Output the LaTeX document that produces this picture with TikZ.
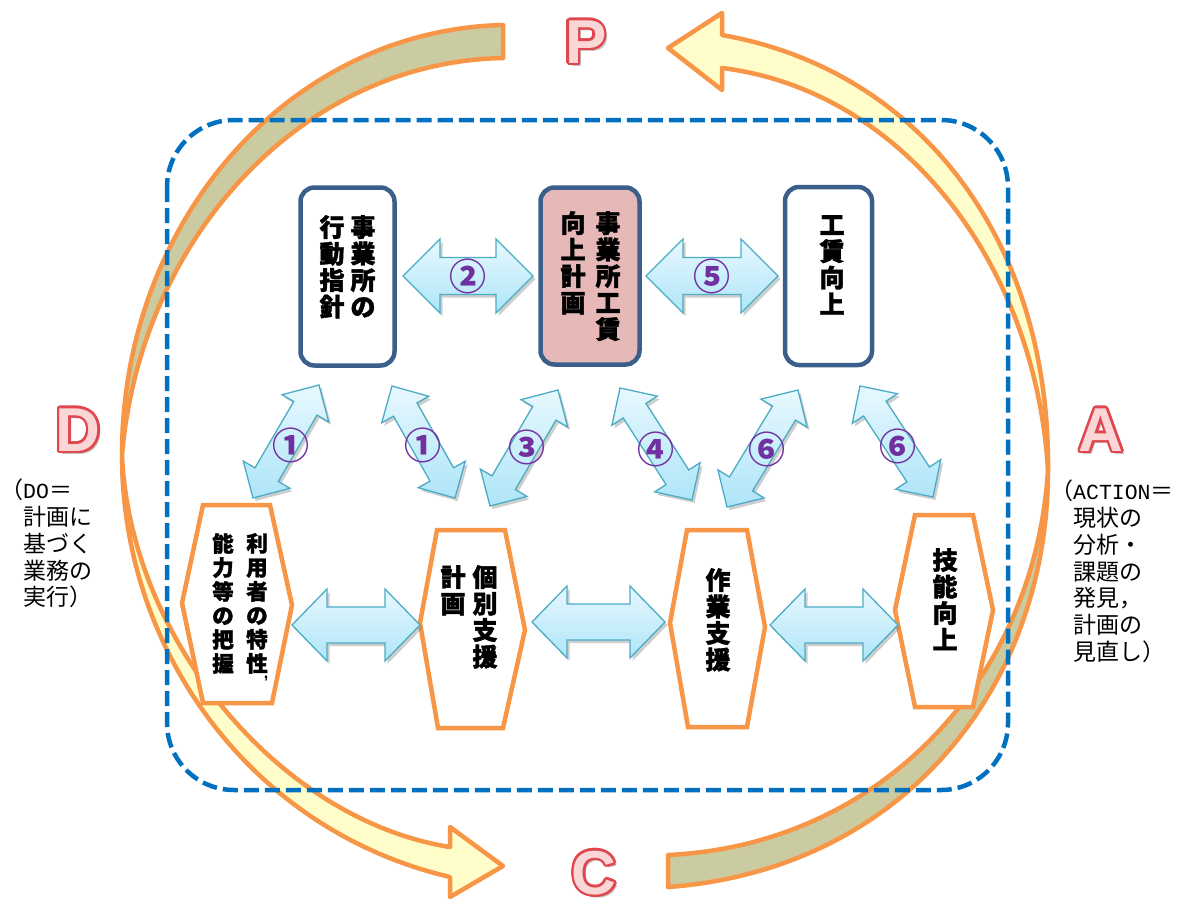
\documentclass[tikz,border=0pt]{standalone}
\usepackage{fontspec}
\newfontfamily\jp{Noto Sans CJK JP}
\newfontfamily\jpheavy{Noto Sans CJK JP}[BoldFeatures={FakeBold=1.6}]
\newfontfamily\lat{Liberation Sans}
\newfontfamily\mono{Liberation Mono}
\newcommand\halfw[1]{{\mono\fontsize{21.5}{26.7}\selectfont #1}}
\usetikzlibrary{calc,shadows}

\definecolor{ribbonedge}{HTML}{F79646}
\definecolor{ribbonback}{HTML}{CBCBA2}
\definecolor{ribbonfront}{HTML}{FFFDCA}
\definecolor{framenavy}{HTML}{3A5F8B}
\definecolor{planpink}{HTML}{E6B9B8}
\definecolor{dashblue}{HTML}{0070C0}
\definecolor{numpurple}{HTML}{7030A0}
\definecolor{arrowedge}{HTML}{4BACC6}
\definecolor{arrowtop}{HTML}{E8F8FE}
\definecolor{arrowbot}{HTML}{AEE5F8}
\definecolor{letterrim}{HTML}{E0464E}
\definecolor{letterface}{HTML}{FAD6D6}

\tikzset{
  ribbon/.style={draw=ribbonedge, line width=4.5pt, line join=round},
  dashframe/.style={draw=dashblue, line width=4.5pt, dash pattern=on 15pt off 6pt, rounded corners=67pt},
  topbox/.style={draw=framenavy, line width=4.5pt, rounded corners=14pt, fill=white},
  hexbox/.style={draw=ribbonedge, line width=4.5pt, fill=white, line join=miter},
  blockarr/.style={draw=arrowedge, line width=1.3pt, line join=miter,
    top color=arrowtop, bottom color=arrowbot,
    drop shadow={shadow xshift=2.5pt, shadow yshift=-3pt, opacity=0.35, fill=black!55}},
  num/.style={text=numpurple, font=\jp\bfseries\fontsize{37}{37}\selectfont, inner sep=0pt},
  vcol/.style={align=center, inner sep=0pt, anchor=north, font=\jpheavy\bfseries\fontsize{25}{26.5}\selectfont},
  vcolsmall/.style={align=center, inner sep=0pt, anchor=north, font=\jpheavy\bfseries\fontsize{21.5}{24}\selectfont},
  note/.style={align=left, inner sep=0pt, anchor=north west, font=\jp\fontsize{23}{26.7}\selectfont},
  letter face/.style={text=letterface, font=\lat\bfseries\fontsize{62}{62}\selectfont, inner sep=0pt},
  letter rim/.style={text=letterrim, font=\lat\bfseries\fontsize{62}{62}\selectfont, inner sep=0pt},
  letter shadow/.style={text=black!45, opacity=0.5, font=\lat\bfseries\fontsize{62}{62}\selectfont, inner sep=0pt},
}

% block double arrow between two tip coordinates:
% [extra style]{tip A}{tip B}{head length}{head half width}{shaft half width}
\newcommand\blockarrow[6][]{%
  \coordinate (#2-#3-a) at ($(#2)!#4!(#3)$);
  \coordinate (#2-#3-b) at ($(#3)!#4!(#2)$);
  \path[blockarr,#1] (#2)
    -- ($(#2-#3-a)!#5!90:(#3)$) -- ($(#2-#3-a)!#6!90:(#3)$)
    -- ($(#2-#3-b)!#6!-90:(#2)$) -- ($(#2-#3-b)!#5!-90:(#2)$)
    -- (#3)
    -- ($(#2-#3-b)!#5!90:(#2)$) -- ($(#2-#3-b)!#6!90:(#2)$)
    -- ($(#2-#3-a)!#6!-90:(#3)$) -- ($(#2-#3-a)!#5!-90:(#3)$)
    -- cycle;
}

% outlined cycle letter: name, position, letter
\newcommand\cycleletter[3]{%
  \node[letter shadow] (#1-shadow) at ($(#2)+(3,3)$) {#3};
  \foreach \a [count=\i] in {0,24,...,336}
    \node[letter rim] (#1-rim\i) at ($(#2)+(\a:2.4)$) {#3};
  \node[letter face] (#1) at (#2) {#3};
}

\begin{document}
\begin{tikzpicture}[x=1pt,y=-1pt]
\useasboundingbox[fill=white] (0,0) rectangle (1180,903);

% ---- the cycle ribbons ----
% left ribbon, back face (from the tail down to the twist)
\path[ribbon, fill=ribbonback]
  (503,25) .. controls (290,30) and (122,220) .. (122,455)
  .. controls (140,240) and (300,62) .. (503,58) -- cycle;
% left ribbon, front face with the head pointing to C
\path[ribbon, fill=ribbonfront]
  (122,455) .. controls (130,640) and (280,820) .. (450,847)
  -- (450,827) -- (503,866) -- (450,897) -- (450,877)
  .. controls (250,830) and (122,650) .. (122,455) -- cycle;
% right ribbon, back face (from the tail up to the twist)
\path[ribbon, fill=ribbonback]
  (1048,470) .. controls (1048,690) and (900,870) .. (668,887)
  -- (668,855) .. controls (880,845) and (1035,680) .. (1048,470) -- cycle;
% right ribbon, front face with the head pointing to P
\path[ribbon, fill=ribbonfront]
  (1048,470) .. controls (1050,240) and (920,70) .. (722,35)
  -- (722,13) -- (668,48) -- (722,90) -- (722,68)
  .. controls (900,90) and (1035,260) .. (1048,470) -- cycle;

% ---- dashed frame ----
\path[dashframe] (167,120) rectangle (1008,790);

% ---- upper row ----
\node[topbox, minimum width=94pt, minimum height=178pt] (box1) at (347.5,276.5) {};
\node[topbox, fill=planpink, minimum width=99pt, minimum height=177pt] (box2) at (590,276) {};
\node[topbox, minimum width=87pt, minimum height=178pt] (box3) at (828.5,276) {};

\node[vcol] (box1-r) at (363,215) {事\\業\\所\\の};
\node[vcol] (box1-l) at (332,215) {行\\動\\指\\針};
\node[vcol] (box2-r) at (608,211) {事\\業\\所\\工\\賃};
\node[vcol] (box2-l) at (573,211) {向\\上\\計\\画};
\node[vcol] (box3-c) at (832,215) {工\\賃\\向\\上};

% ---- lower row ----
\path[hexbox] (182,603) -- (203,505) -- (270,505) -- (292,605) -- (272,703) -- (203,703) -- cycle;
\path[hexbox] (420,623) -- (437,530) -- (505,530) -- (525,630) -- (503,728) -- (438,728) -- cycle;
\path[hexbox] (670,623) -- (687,530) -- (747,530) -- (765,627) -- (747,727) -- (688,727) -- cycle;
\path[hexbox] (895,610) -- (915,515) -- (973,515) -- (993,610) -- (973,707) -- (915,707) -- cycle;

\node[vcolsmall] (hex1-r) at (257,533) {利\\用\\者\\の\\特\\性};
\node[text=black, font=\lat\bfseries\fontsize{16}{16}\selectfont, inner sep=0pt] (hex1-comma) at (266,679) {,};
\node[vcolsmall] (hex1-l) at (223,533) {能\\力\\等\\の\\把\\握};
\node[vcol] (hex2-r) at (485,565) {個\\別\\支\\援};
\node[vcol] (hex2-l) at (453,565) {計\\画};
\node[vcol] (hex3-c) at (718,568) {作\\業\\支\\援};
\node[vcol] (hex4-c) at (945,548) {技\\能\\向\\上};

% ---- arrow tips ----
\coordinate (t2a) at (403,276);  \coordinate (t2b) at (533,276);
\coordinate (t5a) at (646,276);  \coordinate (t5b) at (778,276);
\coordinate (u1a) at (292,625);  \coordinate (u1b) at (420,625);
\coordinate (u2a) at (532,622);  \coordinate (u2b) at (665,622);
\coordinate (u3a) at (770,625);  \coordinate (u3b) at (898,625);
\coordinate (d1a) at (253,498);  \coordinate (d1b) at (319,385);
\coordinate (d2a) at (392,386);  \coordinate (d2b) at (455,498);
\coordinate (d3a) at (490,506);  \coordinate (d3b) at (558,390);
\coordinate (d4a) at (620,388);  \coordinate (d4b) at (692,500);
\coordinate (d5a) at (727,507);  \coordinate (d5b) at (798,390);
\coordinate (d6a) at (860,386);  \coordinate (d6b) at (933,497);

\blockarrow{t2a}{t2b}{37pt}{37pt}{18.5pt}
\blockarrow{t5a}{t5b}{37pt}{37pt}{18.5pt}
\blockarrow{u1a}{u1b}{35pt}{36pt}{18pt}
\blockarrow{u2a}{u2b}{35pt}{36pt}{18pt}
\blockarrow{u3a}{u3b}{35pt}{36pt}{18pt}
\blockarrow{d1a}{d1b}{27pt}{27pt}{13.5pt}
\blockarrow{d2a}{d2b}{27pt}{27pt}{13.5pt}
\blockarrow{d3a}{d3b}{27pt}{27pt}{13.5pt}
\blockarrow{d4a}{d4b}{27pt}{27pt}{13.5pt}
\blockarrow{d5a}{d5b}{27pt}{27pt}{13.5pt}
\blockarrow{d6a}{d6b}{27pt}{27pt}{13.5pt}

\node[num] (n2) at (468,276) {②};
\node[num] (n5) at (712,276) {⑤};
\node[num] (n1a) at (291,445) {①};
\node[num] (n1b) at (423,445) {①};
\node[num] (n3) at (527,447) {③};
\node[num] (n4) at (656,449) {④};
\node[num] (n6a) at (767,449) {⑥};
\node[num] (n6b) at (898,446) {⑥};

% ---- P D C A ----
\cycleletter{P}{586,42}{P}
\cycleletter{D}{78,430}{D}
\cycleletter{A}{1101,430}{A}
\cycleletter{C}{594,873}{C}

\node[note] (do-note) at (0,479)
  {（\halfw{DO}＝\\\hspace*{1em}計画に\\\hspace*{1em}基づく\\\hspace*{1em}業務の\\\hspace*{1em}実行）};
\node[note] (action-note) at (1050,480)
  {（\halfw{ACTION}＝\\\hspace*{1em}現状の\\\hspace*{1em}分析・\\\hspace*{1em}課題の\\\hspace*{1em}発見，\\\hspace*{1em}計画の\\\hspace*{1em}見直し）};
\end{tikzpicture}
\end{document}
